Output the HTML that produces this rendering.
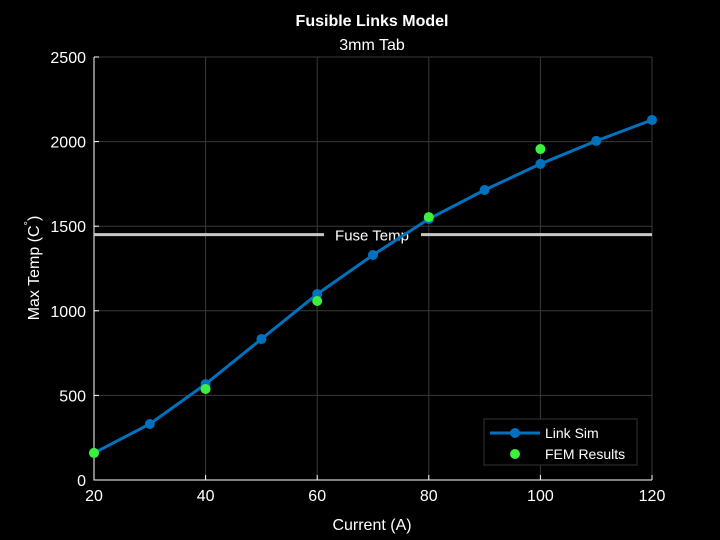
<!DOCTYPE html>
<html><head><meta charset="utf-8"><style>
body{margin:0;background:#000;}
svg{display:block;font-family:"Liberation Sans",sans-serif;}
</style></head><body>
<svg id="chart" width="720" height="540">
<rect width="720" height="540" fill="#000"/>
<g id="grid"></g>
<g id="axes"></g>
<g id="marks"></g>
<text x="372" y="26" fill="#fff" font-size="16" font-weight="bold" text-anchor="middle">Fusible Links Model</text>
<text x="372" y="50" fill="#fff" font-size="16" text-anchor="middle">3mm Tab</text>
<text x="372" y="530" fill="#fff" font-size="16" text-anchor="middle">Current (A)</text>
<text transform="translate(39,268) rotate(-90)" fill="#fff" font-size="16" text-anchor="middle">Max Temp (C<tspan dy="-7" font-size="11">°</tspan><tspan dy="7">)</tspan></text>
<g>
<rect x="484" y="419" width="153" height="46" fill="#000" stroke="#333"/>
<line x1="490" y1="433" x2="540" y2="433" stroke="#0072bd" stroke-width="3"/>
<circle cx="515" cy="433" r="5" fill="#0072bd"/>
<text x="545" y="438" fill="#fff" font-size="14">Link Sim</text>
<circle cx="515" cy="454" r="5" fill="#3cf03c"/>
<text x="545" y="459" fill="#fff" font-size="14">FEM Results</text>
</g>
</svg>
<script>
const xTicks=[20,40,60,80,100,120];
const yTicks=[0,500,1000,1500,2000,2500];
const simX=[20,30,40,50,60,70,80,90,100,110,120];
const simY=[160,331,567,833,1099,1330,1543,1714,1868,2004,2128];
const femX=[20,40,60,80,100];
const femY=[160,538,1058,1554,1956];
const fuseTemp=[1450];
const X0=94,X1=652,Y0=480,Y1=57;
const sx=v=>X0+(v-20)/(120-20)*(X1-X0);
const sy=v=>Y0-v/2500*(Y0-Y1);
const NS="http://www.w3.org/2000/svg";
function mk(parent,tag,attrs){const e=document.createElementNS(NS,tag);for(const k in attrs)e.setAttribute(k,attrs[k]);document.getElementById(parent).appendChild(e);return e;}
xTicks.forEach(t=>{
 const g=mk('grid','line',{x1:sx(t),x2:sx(t),y1:Y1,y2:Y0,stroke:'#3a3a3a'});
 
 
 const tk=mk('axes','line',{x1:sx(t),x2:sx(t),y1:Y0,y2:Y0-5,stroke:'#fff'});
 
 
 const l=mk('axes','text',{x:sx(t),y:Y0+21,fill:'#fff','font-size':16,'text-anchor':'middle'});
 l.textContent=t;
 
 
});
yTicks.forEach(t=>{
 const g=mk('grid','line',{x1:X0,x2:X1,y1:sy(t),y2:sy(t),stroke:'#3a3a3a'});
 
 
 const tk=mk('axes','line',{x1:X0,x2:X0+5,y1:sy(t),y2:sy(t),stroke:'#fff'});
 
 
 const l=mk('axes','text',{x:X0-8,y:sy(t)+6,fill:'#fff','font-size':16,'text-anchor':'end'});
 l.textContent=t;
 
 
});
const ax=mk('axes','path',{d:`M${X0},${Y1}V${Y0}H${X1}`,stroke:'#fff',fill:'none'});


const fy=sy(fuseTemp[0]);
const f1=mk('marks','line',{x1:X0,x2:324,y1:fy,y2:fy,stroke:'#c8c8c8','stroke-width':3});


const f2=mk('marks','line',{x1:421,x2:X1,y1:fy,y2:fy,stroke:'#c8c8c8','stroke-width':3});


const ft=mk('marks','text',{x:372,y:fy+6,fill:'#fff','font-size':15,'text-anchor':'middle'});
ft.textContent='Fuse Temp';


const line=mk('marks','polyline',{points:simX.map((x,i)=>sx(x)+','+sy(simY[i])).join(' '),stroke:'#0072bd','stroke-width':3,fill:'none'});


simX.forEach((x,i)=>{
 const c=mk('marks','circle',{cx:sx(x),cy:sy(simY[i]),r:5,fill:'#0072bd'});
 
 
});
femX.forEach((x,i)=>{
 const c=mk('marks','circle',{cx:sx(x),cy:sy(femY[i]),r:5,fill:'#3cf03c'});
 
 
});
</script>
</body></html>
